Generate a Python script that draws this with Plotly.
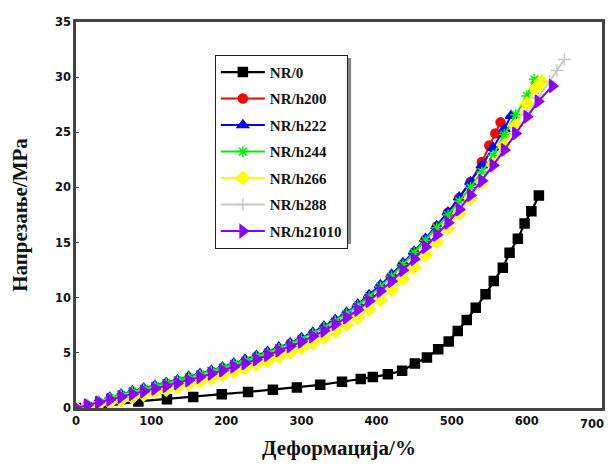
import plotly.graph_objects as go

# ---- data ----
nr0_x = [0, 41, 83, 121, 156, 194, 229, 262, 294, 325, 354, 379, 395, 415, 434, 451, 467, 482, 496, 508, 520, 532, 545, 556, 568, 577, 588, 597, 606, 616]
nr0_y = [0, 0.2, 0.6, 0.8, 1.0, 1.25, 1.45, 1.65, 1.87, 2.1, 2.38, 2.62, 2.8, 3.05, 3.37, 4.04, 4.58, 5.33, 6.03, 6.99, 7.98, 9.1, 10.31, 11.51, 12.72, 14.08, 15.34, 16.73, 17.84, 19.26]

h200_x = [0, 15, 30, 45, 60, 75, 90, 105, 120, 135, 150, 165, 180, 195, 210, 225, 240, 255, 270, 285, 300, 315, 330, 345, 360, 375, 390, 405, 420, 435, 450, 465, 480, 495, 510, 525, 540, 550, 558, 565]
h200_y = [0, 0.2, 0.45, 0.7, 0.95, 1.2, 1.45, 1.7, 1.95, 2.2, 2.5, 2.8, 3.1, 3.45, 3.8, 4.15, 4.5, 4.9, 5.3, 5.75, 6.2, 6.7, 7.25, 7.85, 8.5, 9.25, 10.1, 11.0, 11.95, 13.0, 14.1, 15.25, 16.45, 17.7, 19.05, 20.5, 22.3, 23.8, 24.9, 25.9]

h222_x = [0, 15, 30, 45, 60, 75, 90, 105, 120, 135, 150, 165, 180, 195, 210, 225, 240, 255, 270, 285, 300, 315, 330, 345, 360, 375, 390, 405, 420, 435, 450, 465, 480, 495, 510, 525, 540, 555, 570, 579]
h222_y = [0, 0.3, 0.6, 0.95, 1.25, 1.55, 1.8, 2.05, 2.3, 2.55, 2.85, 3.1, 3.4, 3.7, 4.05, 4.4, 4.75, 5.1, 5.5, 5.9, 6.35, 6.85, 7.4, 8.0, 8.65, 9.4, 10.25, 11.15, 12.1, 13.15, 14.2, 15.35, 16.5, 17.75, 19.1, 20.5, 22.0, 23.6, 25.3, 26.5]

h244_x = [0, 15, 30, 45, 60, 75, 90, 105, 120, 135, 150, 165, 180, 195, 210, 225, 240, 255, 270, 285, 300, 315, 330, 345, 360, 375, 390, 405, 420, 435, 450, 465, 480, 495, 510, 525, 540, 555, 570, 585, 600, 610]
h244_y = [0, 0.25, 0.55, 0.9, 1.2, 1.5, 1.75, 2.0, 2.25, 2.5, 2.8, 3.05, 3.35, 3.65, 4.0, 4.3, 4.65, 5.0, 5.4, 5.8, 6.25, 6.75, 7.3, 7.9, 8.55, 9.3, 10.1, 11.0, 11.95, 13.0, 14.1, 15.2, 16.35, 17.5, 18.75, 20.0, 21.4, 22.9, 24.8, 26.6, 28.3, 29.8]

h266_x = [0, 15, 30, 45, 60, 75, 90, 105, 120, 135, 150, 165, 180, 195, 210, 225, 240, 255, 270, 285, 300, 315, 330, 345, 360, 375, 390, 405, 420, 435, 450, 465, 480, 495, 510, 525, 540, 555, 570, 585, 600, 612, 619]
h266_y = [0, 0.1, 0.3, 0.5, 0.7, 0.95, 1.2, 1.45, 1.65, 1.9, 2.15, 2.4, 2.7, 3.0, 3.3, 3.6, 3.95, 4.3, 4.65, 5.05, 5.45, 5.9, 6.4, 6.95, 7.55, 8.2, 8.95, 9.8, 10.7, 11.7, 12.75, 13.9, 15.1, 16.35, 17.65, 19.0, 20.5, 22.1, 23.8, 25.6, 27.6, 29.0, 29.6]

h288_x = [0, 15, 30, 45, 60, 75, 90, 105, 120, 135, 150, 165, 180, 195, 210, 225, 240, 255, 270, 285, 300, 315, 330, 345, 360, 375, 390, 405, 420, 435, 450, 465, 480, 495, 510, 525, 540, 555, 570, 585, 600, 615, 630, 640, 650]
h288_y = [0, 0.25, 0.5, 0.75, 1.0, 1.25, 1.5, 1.75, 2.0, 2.25, 2.5, 2.8, 3.1, 3.4, 3.7, 4.0, 4.35, 4.75, 5.15, 5.55, 5.95, 6.45, 6.95, 7.55, 8.15, 8.85, 9.6, 10.5, 11.4, 12.4, 13.4, 14.5, 15.6, 16.7, 17.9, 19.2, 20.5, 21.9, 23.3, 24.9, 26.6, 28.1, 29.6, 30.6, 31.6]

h21010_x = [0, 15, 30, 45, 60, 75, 90, 105, 120, 135, 150, 165, 180, 195, 210, 225, 240, 255, 270, 285, 300, 315, 330, 345, 360, 375, 390, 405, 420, 435, 450, 465, 480, 495, 510, 525, 540, 555, 570, 585, 600, 615, 634]
h21010_y = [0, 0.25, 0.5, 0.75, 1.0, 1.25, 1.5, 1.75, 2.0, 2.25, 2.5, 2.8, 3.1, 3.4, 3.75, 4.05, 4.4, 4.8, 5.2, 5.6, 6.0, 6.5, 7.0, 7.6, 8.2, 8.9, 9.7, 10.6, 11.5, 12.5, 13.5, 14.6, 15.7, 16.8, 18.0, 19.3, 20.6, 22.0, 23.4, 24.9, 26.4, 27.8, 29.2]

x_ticks = [0, 100, 200, 300, 400, 500, 600, 700]
y_ticks = [0, 5, 10, 15, 20, 25, 30, 35]

series = [
    ("NR/0", nr0_x, nr0_y, "#000000", "square", 9, 2.2),
    ("NR/h200", h200_x, h200_y, "#ff0000", "circle", 9, 2),
    ("NR/h222", h222_x, h222_y, "#0000ff", "triangle-up", 10, 2),
    ("NR/h244", h244_x, h244_y, "#00ee00", "asterisk-open", 9, 2),
    ("NR/h266", h266_x, h266_y, "#ffff00", "diamond", 10, 2),
    ("NR/h288", h288_x, h288_y, "#c8c8c8", "cross-thin-open", 9, 2),
    ("NR/h21010", h21010_x, h21010_y, "#8a00ff", "triangle-right", 11, 2),
]

fig = go.Figure()
for i, (name, xs, ys, col, sym, ms, lw) in enumerate(series):
    fig.add_trace(go.Scatter(
        x=xs, y=ys, name=name, mode="lines+markers", legendgroup=f"g{i}",
        line=dict(color=col, width=lw),
        marker=dict(symbol=sym, size=ms, color=col, line=dict(color=col, width=1.5)),
    ))

axis_font = dict(family="DejaVu Sans", size=11.5, color="#111111", weight="bold")
title_font = dict(family="Liberation Serif", size=21, color="#111111", weight="bold")

# legend shadow
fig.add_shape(type="rect", xref="paper", yref="paper", layer="above",
              x0=0.2700, x1=0.5230, y0=0.4250, y1=0.9070,
              line=dict(width=0), fillcolor="#888888")

# last x tick label, kept fully inside the visible page edge
x_text = [str(v) for v in x_ticks]
last_label = x_text[-1]
x_text[-1] = ""
fig.add_annotation(x=x_ticks[-1], xref="x", y=0, yref="paper",
                   text=last_label, showarrow=False, xanchor="right", yanchor="top",
                   xshift=3, yshift=-8, font=axis_font, borderpad=0)

fig.update_layout(
    width=606, height=452,
    margin=dict(l=68, r=12, t=14, b=51.5),
    paper_bgcolor="white", plot_bgcolor="white",
    showlegend=True,
    legend=dict(
        x=0.264, y=0.915, xanchor="left", yanchor="top",
        bgcolor="white", bordercolor="#222222", borderwidth=1,
        font=dict(family="Liberation Serif", size=15, color="#111111", weight="bold"),
        tracegroupgap=4, itemwidth=44,
    ),
    xaxis=dict(
        range=[0, 700], tickvals=x_ticks, ticktext=x_text,
        showgrid=False, zeroline=False, showline=True, linecolor="#444444",
        linewidth=2.5, mirror=True, ticks="", tickfont=axis_font, automargin=False,
        ticklabeloverflow="allow",
        title=dict(text="Деформација/%", font=title_font, standoff=14),
    ),
    yaxis=dict(
        range=[0, 35], tickvals=y_ticks, ticktext=[str(v) for v in y_ticks],
        showgrid=False, zeroline=False, showline=True, linecolor="#444444",
        linewidth=2.5, mirror=True, ticks="inside", ticklen=3, tickcolor="#444444",
        tickfont=axis_font, automargin=False, ticklabeloverflow="allow",
        title=dict(text="Напрезање/MPa", font=title_font, standoff=22),
    ),
)

fig.write_html("out.html")
